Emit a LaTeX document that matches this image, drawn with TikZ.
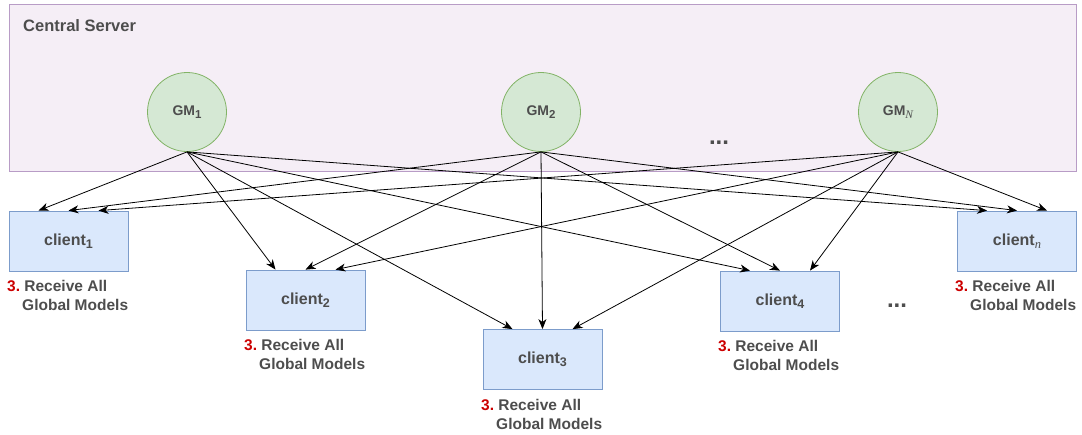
\documentclass[tikz,border=0pt]{standalone}
\usepackage{fontspec}
\setmainfont{Liberation Sans}
\newfontfamily\serifface{Liberation Serif}
\usetikzlibrary{arrows.meta}
\definecolor{srvfill}{HTML}{F5EEF6}
\definecolor{srvline}{HTML}{B89CC6}
\definecolor{gmfill}{HTML}{D5E8D4}
\definecolor{gmline}{HTML}{82B366}
\definecolor{clfill}{HTML}{DAE8FC}
\definecolor{clline}{HTML}{7C9CCB}
\definecolor{txt}{HTML}{4D4D4D}
\definecolor{stepred}{HTML}{CC0000}
% subscripts for client and model names
\newcommand{\csub}[1]{\raisebox{-3pt}{\fontsize{12.5}{12.5}\selectfont #1}}
\newcommand{\gsub}[1]{\raisebox{-2.6pt}{\fontsize{11.5}{11.5}\selectfont #1}}
\newcommand{\itvar}[1]{{\serifface\mdseries\itshape #1}}
\newcommand{\steplabel}{{\color{stepred}3.}\ Receive All}
\begin{document}
\begin{tikzpicture}[x=1pt,y=-1pt,
  server/.style={draw=srvline, fill=srvfill, line width=1pt, inner sep=0pt,
    minimum width=1067pt, minimum height=167pt},
  gm/.style={circle, draw=gmline, fill=gmfill, line width=0.8pt, minimum size=79pt,
    inner sep=0pt, font=\fontsize{14}{16}\selectfont\bfseries, text=txt},
  client/.style={draw=clline, fill=clfill, line width=0.8pt, minimum width=119pt,
    minimum height=60pt, inner sep=0pt, font=\fontsize{16}{18}\selectfont\bfseries, text=txt},
  lbl/.style={anchor=west, inner sep=0pt, font=\fontsize{15.5}{18}\selectfont\bfseries, text=txt},
  title/.style={anchor=west, inner sep=0pt, font=\fontsize{16.5}{18}\selectfont\bfseries, text=txt},
  link/.style={-{Stealth[length=10pt,width=8pt,inset=3pt]}, line width=0.8pt, black},
  dots/.style={inner sep=0pt, font=\fontsize{24}{24}\selectfont\bfseries, text=txt}]
\useasboundingbox (0,0) rectangle (1082,434);

% server area
\node[server, anchor=north west] (server) at (9,4) {};
\node[title] (srvtitle) at (23,26) {Central Server};

% global models
\node[gm] (gm1) at (187,112) {GM\gsub{1}};
\node[gm] (gm2) at (541,112) {GM\gsub{2}};
\node[gm] (gmN) at (898,112) {GM\gsub{\itvar{N}}};
\node[dots] (sdots) at (719,143) {...};

% clients
\node[client] (c1) at (68.5,241) {client\csub{1}};
\node[client] (c2) at (305.5,300) {client\csub{2}};
\node[client] (c3) at (542.5,359.5) {client\csub{3}};
\node[client] (c4) at (780,301) {client\csub{4}};
\node[client] (cn) at (1017,241) {client\csub{\itvar{n}}};
\node[dots] (cdots) at (897,306) {...};

% step labels under the clients
\node[lbl] (l1a) at (7,286) {\steplabel};
\node[lbl] (l1b) at (22,305) {Global Models};
\node[lbl] (l2a) at (244,345) {\steplabel};
\node[lbl] (l2b) at (259,364) {Global Models};
\node[lbl] (l3a) at (481,404.5) {\steplabel};
\node[lbl] (l3b) at (496,423.5) {Global Models};
\node[lbl] (l4a) at (718,346) {\steplabel};
\node[lbl] (l4b) at (733,365) {Global Models};
\node[lbl] (lna) at (955,286) {\steplabel};
\node[lbl] (lnb) at (970,305) {Global Models};

% every global model is sent to every client
\foreach \c in {c1,c2,c3,c4,cn}{
  \draw[link] (gm1.south) -- ([xshift=-30pt]\c.north);
  \draw[link] (gm2.south) -- (\c.north);
  \draw[link] (gmN.south) -- ([xshift=30pt]\c.north);
}
\end{tikzpicture}
\end{document}
